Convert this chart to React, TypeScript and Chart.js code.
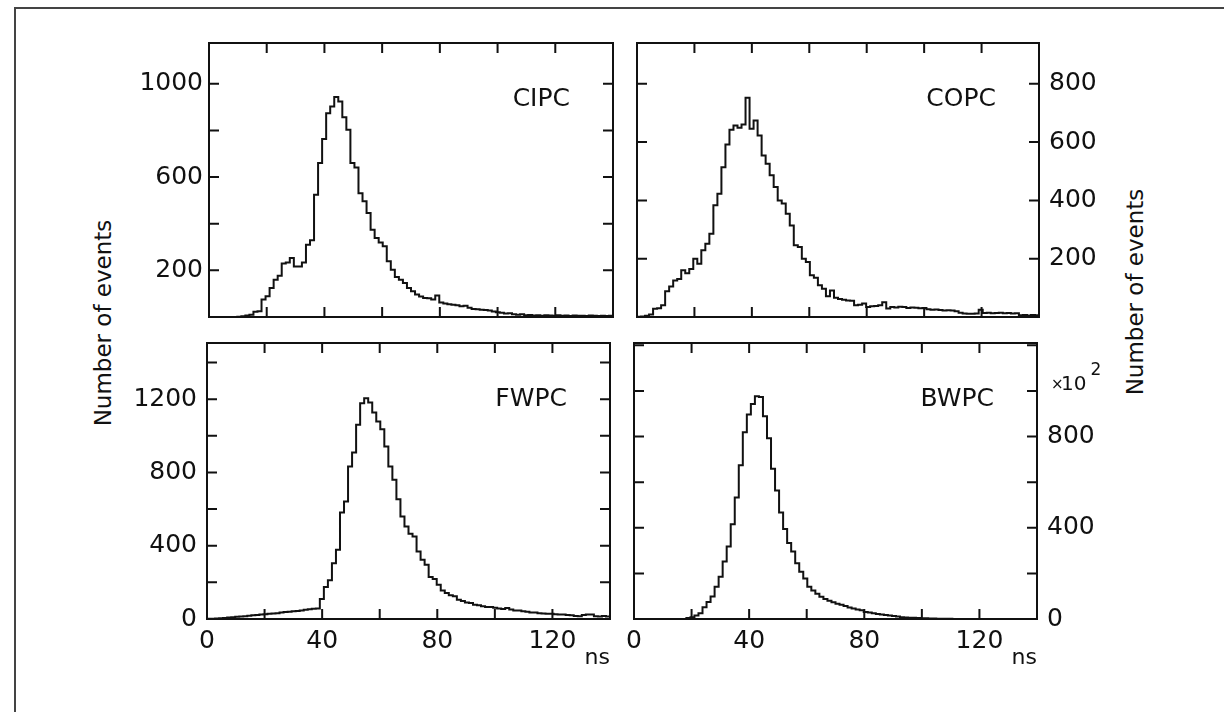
import React, { useEffect, useRef } from 'react';
import { Chart, registerables } from 'chart.js';

Chart.register(...registerables);

// ---------- data ----------
const BIN_WIDTH = 1.4; // ns per histogram bin, 100 bins over 0..140 ns
const X_MAX = 140;
const X_TICK_STEP = 20;
const X_TICK_LABELS = [0, 40, 80, 120];
const Y_TICK_STEP = 200;

const CIPC_COUNTS = [
  0, 0, 0, 0, 0, 0, 0, 1, 3, 6,
  10, 22, 25, 75, 89, 124, 160, 177, 229, 234,
  253, 217, 217, 234, 310, 329, 524, 660, 763, 874,
  903, 943, 924, 857, 803, 660, 641, 531, 496, 446,
  374, 339, 320, 303, 239, 203, 171, 160, 146, 124,
  110, 96, 88, 82, 80, 75, 92, 62, 58, 55,
  52, 50, 46, 48, 40, 34, 33, 31, 30, 28,
  24, 20, 18, 15, 16, 12, 10, 12, 8, 9,
  6, 8, 5, 7, 6, 5, 7, 5, 6, 4,
  6, 5, 5, 4, 6, 5, 4, 5, 4, 5,
];

const COPC_COUNTS = [
  1, 2, 4, 9, 28, 30, 40, 88, 105, 125,
  130, 160, 150, 165, 200, 183, 229, 251, 286, 383,
  423, 514, 592, 642, 657, 649, 660, 752, 646, 674,
  623, 554, 526, 486, 446, 400, 389, 354, 314, 246,
  240, 200, 189, 143, 135, 109, 97, 71, 91, 66,
  62, 59, 57, 56, 40, 42, 46, 34, 37, 38,
  40, 51, 29, 34, 33, 35, 34, 31, 33, 32,
  30, 31, 27, 25, 26, 24, 22, 23, 22, 20,
  15, 12, 11, 11, 12, 25, 14, 15, 13, 14,
  15, 13, 14, 12, 13, 6, 7, 5, 7, 6,
];

const FWPC_COUNTS = [
  1, 2, 3, 4, 5, 8, 10, 12, 13, 15,
  18, 20, 22, 24, 26, 28, 30, 32, 35, 38,
  40, 42, 44, 47, 50, 53, 56, 58, 109, 175,
  211, 305, 378, 582, 642, 833, 909, 1060, 1178, 1205,
  1182, 1127, 1078, 1036, 942, 833, 760, 654, 560, 505,
  465, 451, 369, 324, 296, 229, 218, 187, 155, 142,
  130, 124, 105, 98, 90, 87, 78, 75, 70, 66,
  65, 62, 58, 55, 60, 52, 47, 46, 42, 40,
  36, 35, 32, 30, 29, 28, 26, 25, 24, 22,
  20, 17, 15, 22, 25, 24, 15, 14, 16, 14,
];

// BWPC counts are in units of 10^2
const BWPC_COUNTS = [
  0, 0, 0, 0, 0, 0, 0, 0, 0, 0,
  0, 0, 0, 4, 8, 15, 25, 52, 74, 99,
  141, 185, 252, 318, 415, 533, 674, 819, 896, 943,
  977, 973, 889, 792, 659, 563, 467, 395, 333, 296,
  244, 207, 178, 141, 125, 111, 98, 88, 80, 73,
  67, 62, 57, 50, 46, 42, 38, 31, 28, 25,
  22, 20, 18, 15, 13, 11, 8, 7, 6, 5,
  4, 3, 3, 2, 2, 1, 1, 1, 1, 0,
  0, 0, 0, 0, 0, 0, 0, 0, 0, 0,
  0, 0, 0, 0, 0, 0, 0, 0, 0, 0,
];

const CIPC_Y_LABELS = [200, 600, 1000];
const COPC_Y_LABELS = [200, 400, 600, 800];
const FWPC_Y_LABELS = [0, 400, 800, 1200];
const BWPC_Y_LABELS = [0, 400, 800];

const CIPC_Y_MAX = 1175;
const COPC_Y_MAX = 940;
const FWPC_Y_MAX = 1507;
const BWPC_Y_MAX = 1210;

const Y_TITLE = 'Number of events';
const X_TITLE = 'ns';

// ---------- style / layout ----------
const INK = '#111111';
const FONT = '"DejaVu Sans", "Liberation Sans", sans-serif';

type Box = { left: number; top: number; width: number; height: number };
type Area = { left: number; top: number; right: number; bottom: number };
type PanelCfg = {
  name: string;
  counts: number[];
  yLabels: number[];
  yMax: number;
  ySide: 'left' | 'right';
  showX: boolean;
  box: Box;
  area: Area;
  yPad: number;
  multiplier?: boolean;
};

const PANELS: PanelCfg[] = [
  {
    name: 'CIPC', counts: CIPC_COUNTS, yLabels: CIPC_Y_LABELS, yMax: CIPC_Y_MAX,
    ySide: 'left', showX: false,
    box: { left: 120, top: 20, width: 510, height: 315 },
    area: { left: 209, top: 43, right: 613, bottom: 317 }, yPad: 6,
  },
  {
    name: 'COPC', counts: COPC_COUNTS, yLabels: COPC_Y_LABELS, yMax: COPC_Y_MAX,
    ySide: 'right', showX: false,
    box: { left: 620, top: 20, width: 500, height: 315 },
    area: { left: 637, top: 43, right: 1039, bottom: 317 }, yPad: 10,
  },
  {
    name: 'FWPC', counts: FWPC_COUNTS, yLabels: FWPC_Y_LABELS, yMax: FWPC_Y_MAX,
    ySide: 'left', showX: true,
    box: { left: 120, top: 335, width: 505, height: 345 },
    area: { left: 207, top: 343, right: 610, bottom: 619 }, yPad: 10,
  },
  {
    name: 'BWPC', counts: BWPC_COUNTS, yLabels: BWPC_Y_LABELS, yMax: BWPC_Y_MAX,
    ySide: 'right', showX: true,
    box: { left: 620, top: 335, width: 500, height: 345 },
    area: { left: 634, top: 343, right: 1037, bottom: 619 }, yPad: 10, multiplier: true,
  },
];

const framePlugin = {
  id: 'frame',
  afterDatasetsDraw(chart: any, _args: any, opts: any) {
    const { ctx, chartArea: a, scales } = chart;
    const xs = scales.x;
    const ys = scales.y;
    ctx.save();
    ctx.strokeStyle = INK;
    ctx.lineWidth = 2;
    ctx.strokeRect(a.left, a.top, a.right - a.left, a.bottom - a.top);
    ctx.beginPath();
    for (let v = X_TICK_STEP; v < X_MAX; v += X_TICK_STEP) {
      const px = xs.getPixelForValue(v);
      ctx.moveTo(px, a.bottom);
      ctx.lineTo(px, a.bottom - 10);
      ctx.moveTo(px, a.top);
      ctx.lineTo(px, a.top + 10);
    }
    for (let v = Y_TICK_STEP; v < ys.max; v += Y_TICK_STEP) {
      const py = ys.getPixelForValue(v);
      ctx.moveTo(a.left, py);
      ctx.lineTo(a.left + 10, py);
      ctx.moveTo(a.right, py);
      ctx.lineTo(a.right - 10, py);
    }
    ctx.stroke();

    ctx.fillStyle = INK;
    ctx.font = `25px ${FONT}`;
    ctx.textAlign = 'right';
    ctx.textBaseline = 'middle';
    ctx.fillText(opts.name, a.right - 43, a.top + 56);

    if (opts.multiplier) {
      ctx.textAlign = 'left';
      ctx.textBaseline = 'alphabetic';
      ctx.font = `15px ${FONT}`;
      ctx.fillText('×', a.right + 14, a.top + 46);
      ctx.font = `20px ${FONT}`;
      ctx.fillText('10', a.right + 24, a.top + 47);
      const w = ctx.measureText('10').width;
      ctx.font = `17px ${FONT}`;
      ctx.fillText('2', a.right + 28 + w, a.top + 32);
    }
    ctx.restore();
  },
};

function Panel({ cfg }: { cfg: PanelCfg }) {
  const ref = useRef<HTMLCanvasElement | null>(null);

  useEffect(() => {
    const { box, area } = cfg;
    const boxRight = box.left + box.width;
    const boxBottom = box.top + box.height;
    const yWidth = cfg.ySide === 'left' ? area.left - box.left : boxRight - area.right;
    const padLeft = cfg.ySide === 'left' ? 0 : area.left - box.left;
    const padRight = cfg.ySide === 'left' ? boxRight - area.right : 0;
    const padTop = area.top - box.top;
    const xHeight = boxBottom - area.bottom;

    const points = cfg.counts.map((c, i) => ({ x: i * BIN_WIDTH, y: c }));
    points.push({ x: X_MAX, y: cfg.counts[cfg.counts.length - 1] });

    const xTickValues: { value: number }[] = [];
    for (let v = 0; v <= X_MAX; v += X_TICK_STEP) xTickValues.push({ value: v });
    const yTickValues: { value: number }[] = [];
    for (let v = 0; v <= cfg.yMax; v += Y_TICK_STEP) yTickValues.push({ value: v });

    const zeroPad = (s: any) => {
      s.paddingTop = 0;
      s.paddingBottom = 0;
      s.paddingLeft = 0;
      s.paddingRight = 0;
    };

    const chart = new Chart(ref.current as HTMLCanvasElement, {
      type: 'line',
      data: {
        datasets: [
          {
            data: points,
            borderColor: INK,
            borderWidth: 2,
            pointRadius: 0,
            stepped: 'before',
            fill: false,
            tension: 0,
          },
        ],
      },
      options: {
        animation: false,
        responsive: false,
        devicePixelRatio: 1,
        events: [],
        layout: { padding: { left: padLeft, right: padRight, top: padTop, bottom: 0 } },
        plugins: {
          legend: { display: false },
          tooltip: { enabled: false },
          frame: { name: cfg.name, multiplier: !!cfg.multiplier },
        } as any,
        scales: {
          x: {
            type: 'linear',
            position: 'bottom',
            min: 0,
            max: X_MAX,
            grid: { display: false, drawTicks: false },
            border: { display: false },
            afterBuildTicks: (s: any) => {
              s.ticks = xTickValues.map((t) => ({ value: t.value }));
            },
            ticks: {
              display: cfg.showX,
              autoSkip: false,
              maxRotation: 0,
              padding: 7,
              color: INK,
              font: { family: FONT, size: 25 },
              callback: (v: any) => (X_TICK_LABELS.includes(Number(v)) ? String(v) : ''),
            },
            title: {
              display: cfg.showX,
              text: X_TITLE,
              align: 'end',
              color: INK,
              font: { family: FONT, size: 22 },
              padding: { top: 0, bottom: 9 },
            },
            afterFit: (s: any) => {
              s.height = xHeight;
              zeroPad(s);
            },
          },
          y: {
            type: 'linear',
            position: cfg.ySide,
            min: 0,
            max: cfg.yMax,
            grid: { display: false, drawTicks: false },
            border: { display: false },
            afterBuildTicks: (s: any) => {
              s.ticks = yTickValues.map((t) => ({ value: t.value }));
            },
            ticks: {
              autoSkip: false,
              padding: cfg.yPad,
              color: INK,
              font: { family: FONT, size: 25 },
              callback: (v: any) => (cfg.yLabels.includes(Number(v)) ? String(v) : ''),
            },
            afterFit: (s: any) => {
              s.width = yWidth;
              zeroPad(s);
            },
          },
        },
      } as any,
      plugins: [framePlugin as any],
    });

    return () => chart.destroy();
  }, [cfg]);

  return (
    <canvas
      ref={ref}
      width={cfg.box.width}
      height={cfg.box.height}
      style={{
        position: 'absolute',
        left: cfg.box.left,
        top: cfg.box.top,
        width: cfg.box.width,
        height: cfg.box.height,
      }}
    />
  );
}

function VerticalTitle({ cx, cy }: { cx: number; cy: number }) {
  return (
    <div
      style={{
        position: 'absolute',
        left: cx,
        top: cy,
        transform: 'translate(-50%, -50%) rotate(-90deg)',
        whiteSpace: 'nowrap',
        fontFamily: FONT,
        fontSize: 23,
        lineHeight: '28px',
        color: INK,
      }}
    >
      {Y_TITLE}
    </div>
  );
}

export default function App() {
  return (
    <div
      style={{
        position: 'absolute',
        left: 0,
        top: 0,
        width: 1224,
        height: 712,
        background: '#ffffff',
        overflow: 'hidden',
      }}
    >
      <div
        style={{
          position: 'absolute',
          left: 14,
          top: 7,
          width: 1210,
          height: 705,
          borderTop: '2px solid #444',
          borderLeft: '2px solid #444',
          boxSizing: 'border-box',
        }}
      />
      {PANELS.map((p) => (
        <Panel key={p.name} cfg={p} />
      ))}
      <VerticalTitle cx={103} cy={323} />
      <VerticalTitle cx={1135} cy={292} />
    </div>
  );
}
